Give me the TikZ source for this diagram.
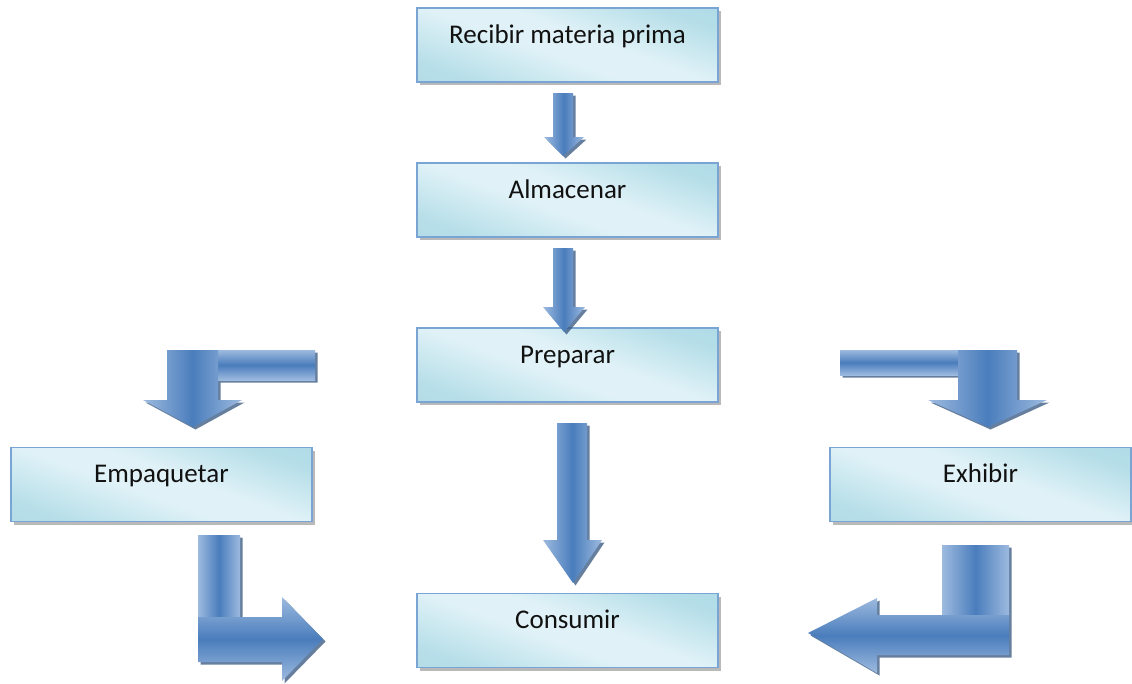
\documentclass[tikz,border=0pt]{standalone}
\usepackage{fontspec}
\setmainfont{Carlito}
\usetikzlibrary{shadows}
\definecolor{boxA}{HTML}{E0F2F7}
\definecolor{boxB}{HTML}{A9D8E4}
\definecolor{boxline}{HTML}{7AA4D4}
\definecolor{arD}{HTML}{4A7DBC}
\definecolor{arL}{HTML}{9DBADF}
\definecolor{arS}{HTML}{34557F}
\definecolor{txt}{HTML}{111111}
\pgfdeclarehorizontalshading{boxshade}{100bp}{color(0bp)=(boxB); color(25bp)=(boxB!75!boxA); color(45bp)=(boxA); color(55bp)=(boxA); color(75bp)=(boxB!80!boxA); color(100bp)=(boxB)}
\tikzset{
  stepbox/.style={draw=boxline, line width=1.5pt, shading=boxshade, shading angle=70,
    minimum width=301pt, minimum height=74pt, inner sep=0pt,
    text height=30pt, text depth=34pt, text=txt, font=\fontsize{27}{31}\selectfont,
    drop shadow={shadow xshift=3pt, shadow yshift=-3pt, fill=black!50, opacity=0.55}},
  vshade/.style={left color=arL, right color=arL, middle color=arD},
  hshade/.style={top color=arL, bottom color=arL, middle color=arD},
  arshadow/.style={fill=arS, opacity=0.75, shift={(2.5,2.5)}},
}
\newcommand\blockshadow[1]{\fill[arshadow] #1;}
\begin{document}
\begin{tikzpicture}[x=1pt,y=-1pt]
\fill[white] (0,0) rectangle (1132,683);
\useasboundingbox (0,0) rectangle (1132,683);

% boxes
\node[stepbox] (rec) at (567.5,45) {Recibir materia prima};
\node[stepbox] (alm) at (567.5,200) {Almacenar};
\node[stepbox] (pre) at (567.5,365) {Preparar};
\node[stepbox] (con) at (567.5,630.5) {Consumir};
\node[stepbox] (emp) at (161.5,484.5) {Empaquetar};
\node[stepbox] (exh) at (980.5,484.5) {Exhibir};

% straight arrows
\blockshadow{(553,93)--(573,93)--(573,137)--(584,137)--(563,156)--(544,137)--(553,137)--cycle}
\shade[vshade] (553,93)--(573,93)--(573,137)--(584,137)--(563,156)--(544,137)--(553,137)--cycle;

\blockshadow{(553,248)--(573,248)--(573,307)--(585,307)--(564,332)--(543,307)--(553,307)--cycle}
\shade[vshade] (553,248)--(573,248)--(573,307)--(585,307)--(564,332)--(543,307)--(553,307)--cycle;

\blockshadow{(557,423)--(587,423)--(587,540)--(602,540)--(573,583)--(543,540)--(557,540)--cycle}
\shade[vshade] (557,423)--(587,423)--(587,540)--(602,540)--(573,583)--(543,540)--(557,540)--cycle;

% top-left bent arrow
\blockshadow{(167,350)--(315,350)--(315,380)--(218,380)--(218,400)--(242,400)--(193,427)--(143,400)--(167,400)--cycle}
\shade[hshade] (217,350)--(315,350)--(315,380)--(217,380)--cycle;
\shade[vshade] (167,350)--(218,350)--(218,400)--(242,400)--(193,427)--(143,400)--(167,400)--cycle;

% bottom-left bent arrow
\blockshadow{(198,535)--(240,535)--(240,617)--(282,617)--(282,597)--(323,639)--(282,681)--(282,662)--(198,662)--cycle}
\shade[vshade] (198,535)--(240,535)--(240,618)--(198,618)--cycle;
\shade[hshade] (198,617)--(282,617)--(282,597)--(323,639)--(282,681)--(282,662)--(198,662)--cycle;

% top-right bent arrow
\blockshadow{(840,350)--(1017,350)--(1017,400)--(1047,400)--(988,427)--(928,400)--(958,400)--(958,375)--(840,375)--cycle}
\shade[hshade] (840,350)--(959,350)--(959,375)--(840,375)--cycle;
\shade[vshade] (958,350)--(1017,350)--(1017,400)--(1047,400)--(988,427)--(928,400)--(958,400)--cycle;

% bottom-right bent arrow
\blockshadow{(942,545)--(1009,545)--(1009,655)--(877,655)--(877,673)--(808,633)--(877,598)--(877,615)--(942,615)--cycle}
\shade[vshade] (942,545)--(1009,545)--(1009,616)--(942,616)--cycle;
\shade[hshade] (1009,615)--(1009,655)--(877,655)--(877,673)--(808,633)--(877,598)--(877,615)--cycle;
\end{tikzpicture}
\end{document}
